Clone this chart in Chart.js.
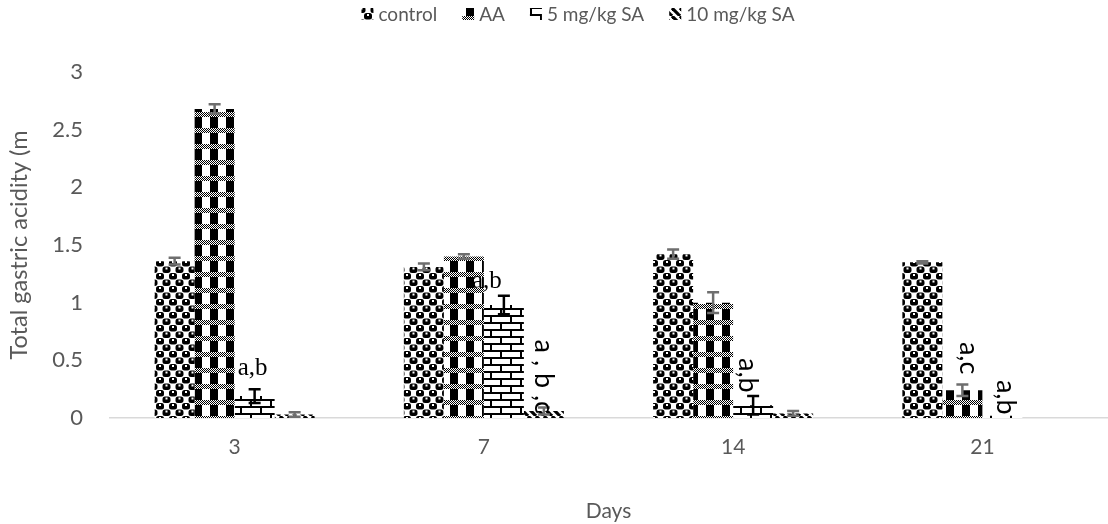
<!DOCTYPE html>
<html>
<head>
<meta charset="utf-8">
<script src="https://cdn.jsdelivr.net/npm/chart.js@4.4.1/dist/chart.umd.min.js"></script>
<style>
  html, body { margin: 0; padding: 0; background: #fff; }
  #wrap { width: 1108px; height: 524px; position: relative; }
</style>
</head>
<body>
<div id="wrap"><canvas id="c" width="1108" height="524"></canvas></div>
<script>
// ---------- DATA ----------
const categories = ['3', '7', '14', '21'];
const seriesNames = ['control', 'AA', '5 mg/kg SA', '10 mg/kg SA'];

const controlValues = [1.36, 1.31, 1.42, 1.35];
const controlErrors = [0.03, 0.03, 0.04, 0.01];

const aaValues = [2.68, 1.40, 1.00, 0.24];
const aaErrors = [0.04, 0.02, 0.09, 0.05];

const sa5Values = [0.19, 0.98, 0.11, 0.02];
const sa5Errors = [0.06, 0.08, 0.08, 0.00];

const sa10Values = [0.03, 0.06, 0.04, 0.00];
const sa10Errors = [0.02, 0.03, 0.02, 0.00];

// significance letters per series per category
const controlMarks = ['', '', '', ''];
const aaMarks = ['', '', '', 'a,c'];
const sa5Marks = ['a,b', 'a,b', 'a,b', 'a,b'];
const sa10Marks = ['', 'a , b ,c', '', ''];

const yTickValues = [0, 0.5, 1, 1.5, 2, 2.5, 3];
const yTickLabels = ['0', '0.5', '1', '1.5', '2', '2.5', '3'];

// ---------- PATTERNS ----------
function makePattern(w, h, draw) {
  const c = document.createElement('canvas');
  c.width = w; c.height = h;
  const g = c.getContext('2d');
  g.fillStyle = '#fff'; g.fillRect(0, 0, w, h);
  g.fillStyle = '#000'; g.strokeStyle = '#000';
  draw(g, w, h);
  return document.createElement('canvas').getContext('2d').createPattern(c, 'repeat');
}
function blob(g, x, y) {
  g.fillStyle = '#000';
  g.beginPath();
  if (g.roundRect) g.roundRect(x, y, 8, 6.5, 2.5); else g.rect(x, y, 8, 6.5);
  g.fill();
  g.fillStyle = '#fff';
  g.fillRect(x + 3, y + 1, 2, 2);
}
const controlPattern = makePattern(13, 13, (g) => {
  blob(g, 0, 0); blob(g, 13, 0); blob(g, 0, 13);
  blob(g, 6.5, 6.5); blob(g, 6.5 - 13, 6.5); blob(g, 6.5, 6.5 - 13);
});
const aaPattern = makePattern(16, 16, (g) => {
  for (let y = 0; y < 5; y++) for (let x = 0; x < 16; x++) if ((x + y) % 2 === 0) g.fillRect(x, y, 1, 1);
  g.fillRect(2, 5, 8, 11);
});
const sa5Pattern = makePattern(20, 14, (g) => {
  g.fillRect(0, 0, 20, 2);
  g.fillRect(0, 7, 20, 2);
  g.fillRect(0, 2, 2, 5);
  g.fillRect(10, 9, 2, 5);
});
const sa10Pattern = makePattern(8, 8, (g) => {
  g.lineWidth = 3.2;
  for (const o of [-8, 0, 8]) { g.beginPath(); g.moveTo(o, 0); g.lineTo(o + 8, 8); g.stroke(); }
});

const errorColors = ['#6e6e6e', '#6e6e6e', '#000000', '#6e6e6e'];

// placement of significance labels: [series, category] -> offset/rotation
const markPlacement = {
  '2-0': { rot: false, dx: -2, yv: 0.37 },
  '2-1': { rot: false, dx: -17, yv: 1.13 },
  '3-1': { rot: true, dx: -9, yv: 0.68 },
  '2-2': { rot: true, dx: -14, yv: 0.52 },
  '1-3': { rot: true, dx: -2, yv: 0.66 },
  '2-3': { rot: true, dx: -5, yv: 0.33 }
};

const valueSets = [controlValues, aaValues, sa5Values, sa10Values];
const errorSets = [controlErrors, aaErrors, sa5Errors, sa10Errors];
const markSets = [controlMarks, aaMarks, sa5Marks, sa10Marks];
const patterns = [controlPattern, aaPattern, sa5Pattern, sa10Pattern];

const TEXT = '#595959';
const FONT = 'Lato, "Open Sans", sans-serif';

// ---------- PLUGINS ----------
const errorBarPlugin = {
  id: 'errorBars',
  afterDatasetsDraw(chart) {
    const ctx = chart.ctx, y = chart.scales.y;
    ctx.save();
    chart.data.datasets.forEach((ds, i) => {
      const meta = chart.getDatasetMeta(i);
      meta.data.forEach((el, j) => {
        const v = valueSets[i][j], e = errorSets[i][j];
        if (!e) return;
        const top = y.getPixelForValue(v + e), bot = y.getPixelForValue(Math.max(0, v - e));
        const cap = 6;
        ctx.strokeStyle = errorColors[i];
        ctx.lineWidth = 2.5;
        ctx.beginPath();
        ctx.moveTo(el.x, top); ctx.lineTo(el.x, bot);
        ctx.moveTo(el.x - cap, top); ctx.lineTo(el.x + cap, top);
        ctx.moveTo(el.x - cap, bot); ctx.lineTo(el.x + cap, bot);
        ctx.stroke();
      });
    });
    ctx.restore();
  }
};

const marksPlugin = {
  id: 'marks',
  afterDatasetsDraw(chart) {
    const ctx = chart.ctx, y = chart.scales.y, a = chart.chartArea;
    ctx.save();
    ctx.beginPath(); ctx.rect(a.left, a.top - 60, a.right - a.left, a.bottom - a.top + 60); ctx.clip();
    ctx.fillStyle = '#000';
    markSets.forEach((marks, i) => {
      const meta = chart.getDatasetMeta(i);
      marks.forEach((txt, j) => {
        if (!txt) return;
        const p = markPlacement[i + '-' + j];
        const x = meta.data[j].x + p.dx;
        const py = y.getPixelForValue(p.yv);
        if (p.rot) {
          ctx.save();
          ctx.font = '27px ' + FONT;
          ctx.translate(x, py);
          ctx.rotate(Math.PI / 2);
          ctx.textAlign = 'left'; ctx.textBaseline = 'alphabetic';
          ctx.fillText(txt, 0, 0);
          ctx.restore();
        } else {
          ctx.font = '25px "Liberation Serif", "Times New Roman", serif';
          ctx.textAlign = 'center'; ctx.textBaseline = 'alphabetic';
          ctx.fillText(txt, x, py);
        }
      });
    });
    ctx.restore();
  }
};

const legendPlugin = {
  id: 'customLegend',
  afterDraw(chart) {
    const ctx = chart.ctx;
    ctx.save();
    ctx.font = '19px ' + FONT;
    const box = 12, gapText = 5, gapItem = 25;
    const widths = chart.data.datasets.map(d => box + gapText + ctx.measureText(d.label).width);
    const total = widths.reduce((s, w) => s + w, 0) + gapItem * (widths.length - 1);
    let x = 578 - total / 2;
    const cy = 14;
    chart.data.datasets.forEach((d, i) => {
      ctx.fillStyle = d.backgroundColor;
      ctx.fillRect(x, cy - box / 2, box, box);
      ctx.fillStyle = TEXT;
      ctx.textAlign = 'left'; ctx.textBaseline = 'middle';
      ctx.fillText(d.label, x + box + gapText, cy + 1);
      x += widths[i] + gapItem;
    });
    ctx.restore();
  }
};

// ---------- CHART ----------
new Chart(document.getElementById('c'), {
  type: 'bar',
  data: {
    labels: categories,
    datasets: seriesNames.map((name, i) => ({
      label: name,
      data: valueSets[i],
      backgroundColor: patterns[i],
      borderWidth: 0,
      categoryPercentage: 0.642,
      barPercentage: 1.0
    }))
  },
  options: {
    responsive: false,
    animation: false,
    events: [],
    layout: { padding: { top: 72, right: 1, bottom: 0, left: 0 } },
    plugins: {
      legend: { display: false },
      tooltip: { enabled: false }
    },
    scales: {
      x: {
        grid: { display: false, drawTicks: false },
        border: { display: true, color: '#d9d9d9', width: 1.5 },
        ticks: { color: TEXT, font: { family: FONT, size: 21 }, padding: 17 },
        title: { display: true, text: 'Days', color: TEXT, font: { family: FONT, size: 21 }, padding: { top: 20, bottom: 0 } },
        afterFit(s) { s.height = 106; }
      },
      y: {
        min: 0, max: 3,
        afterBuildTicks(s) { s.ticks = yTickValues.map(v => ({ value: v })); },
        grid: { display: false, drawTicks: false },
        border: { display: false },
        ticks: {
          color: TEXT, font: { family: FONT, size: 22 }, padding: 27,
          callback: (v) => yTickLabels[yTickValues.indexOf(v)]
        },
        title: { display: true, text: 'Total gastric acidity (m', color: TEXT, font: { family: FONT, size: 23.5 }, padding: { top: 5, bottom: 0 } },
        afterFit(s) { s.width = 110; }
      }
    }
  },
  plugins: [errorBarPlugin, marksPlugin, legendPlugin]
});
</script>
</body>
</html>
